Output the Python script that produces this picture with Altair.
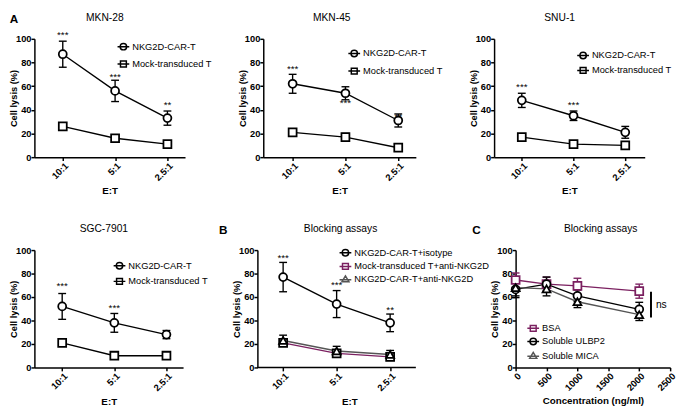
import json
import altair as alt
import pandas as pd

FONT = "Liberation Sans"
PURPLE = "#7b2060"
GREY = "#555555"

ratios = ["10:1", "5:1", "2.5:1"]
car = "NKG2D-CAR-T"
mock = "Mock-transduced T"

# ---- Panel A: MKN-28
mkn28_car = [87, 56, 33]
mkn28_car_sem = [11, 9, 6]
mkn28_mock = [26, 16, 11]
mkn28_mock_sem = [1.5, 3, 2]
mkn28_star_text = ["***", "***", "**"]
mkn28_star_y = [105.5, 70, 46]

# ---- MKN-45
mkn45_car = [62, 54, 31]
mkn45_car_sem = [8, 5.5, 5.5]
mkn45_mock = [21, 17, 8]
mkn45_mock_sem = [1.5, 3, 2]
mkn45_star_text = ["***", "***", "**"]
mkn45_star_y = [76.7, 48, 36]

# ---- SNU-1
snu1_car = [48, 35, 21]
snu1_car_sem = [6, 4, 5]
snu1_mock = [17, 11, 10]
snu1_mock_sem = [1.5, 1.5, 1.5]
snu1_star_text = ["***", "***"]
snu1_star_y = [61.4, 45.7]

# ---- SGC-7901
sgc_car = [52, 38, 28]
sgc_car_sem = [11, 8, 3.5]
sgc_mock = [21, 10, 10]
sgc_mock_sem = [1, 1, 1]
sgc_star_text = ["***", "***"]
sgc_star_y = [71.3, 52.5]

# ---- Panel B: blocking assays (E:T)
b_names = ["NKG2D-CAR-T+isotype", "Mock-transduced T+anti-NKG2D", "NKG2D-CAR-T+anti-NKG2D"]
b_iso = [77, 54, 38]
b_iso_sem = [12.5, 11.5, 7.5]
b_mock = [21, 12, 9]
b_mock_sem = [3, 3, 3]
b_anti = [23, 14, 11]
b_anti_sem = [4.5, 4, 3.5]
b_star_text = ["***", "***", "**"]
b_star_y = [95, 72, 51]

# ---- Panel C: blocking assays (concentration)
c_names = ["BSA", "Soluble ULBP2", "Soluble MICA"]
conc = [0, 500, 1000, 2000]
conc_ticks = [0, 500, 1000, 1500, 2000, 2500]
c_bsa = [74.5, 71, 69.5, 65]
c_bsa_sem = [6, 6, 6.5, 6]
c_ulbp2 = [66.5, 71, 61, 49.5]
c_ulbp2_sem = [7, 6, 5, 6]
c_mica = [68, 67, 56, 45]
c_mica_sem = [7, 6, 5, 5]
ns_x = [2190]
ns_lo = [42.5]
ns_hi = [64.5]
ns_text = ["ns"]

y_ticks = [0, 20, 40, 60, 80, 100]

# legend symbols: marker with line through
P_CIRCLE = "M-1,0L1,0M-0.55,0A0.55,0.55,0,1,1,0.55,0A0.55,0.55,0,1,1,-0.55,0Z"
P_SQUARE = "M-1,0L1,0M-0.5,-0.5L0.5,-0.5L0.5,0.5L-0.5,0.5Z"
P_TRI = "M-1,0.1L1,0.1M0,-0.55L0.6,0.45L-0.6,0.45Z"


def series_df(names, means, sems, xs):
    rows = []
    for name, m, s in zip(names, means, sems):
        for xv, mv, sv in zip(xs, m, s):
            rows.append(dict(series=name, x=xv, mean=mv, lo=mv - sv, hi=mv + sv))
    return pd.DataFrame(rows)


def stars_df(texts, ys):
    return pd.DataFrame(dict(x=list(range(len(texts))), y=ys, t=texts))


def ratio_x(first, step, width, domain_line=True):
    dmin = -first / step
    dmax = (width - first) / step
    scale = alt.Scale(domain=[dmin, dmax], nice=False, zero=False)
    axis = alt.Axis(values=list(range(len(ratios))),
                    labelExpr=json.dumps(ratios) + "[datum.value]",
                    labelAngle=-45, title="E:T", domain=domain_line)

    def make(field=None, datum=None):
        if datum is not None:
            return alt.X(datum=datum, type="quantitative", scale=scale, axis=axis)
        return alt.X(field, type="quantitative", scale=scale, axis=axis)
    return make


def conc_x(field):
    return alt.X(field, type="quantitative",
                 scale=alt.Scale(domain=[0, 2500], nice=False, zero=False),
                 axis=alt.Axis(values=conc_ticks, labelAngle=-45, format="d",
                               title="Concentration (ng/ml)"))


Y_SCALE = alt.Scale(domain=[0, 100], nice=False)
Y_AXIS = alt.Axis(values=y_ticks, title="Cell lysis (%)")


def yenc(field=None, datum=None):
    if datum is not None:
        return alt.Y(datum=datum, type="quantitative", scale=Y_SCALE, axis=Y_AXIS)
    return alt.Y(field, type="quantitative", scale=Y_SCALE, axis=Y_AXIS)


def build(df, sdf, names, colors, mcolors, shapes, paths, xf, title, w, h, leg, label, lxy,
          tdx=0, extra=None):
    base = alt.Chart(df)
    col = alt.Color("series:N", scale=alt.Scale(domain=names, range=colors), legend=None)
    mcol = alt.Color("series:N", scale=alt.Scale(domain=names, range=mcolors), legend=None)
    lines = base.mark_line(strokeWidth=1.4).encode(x=xf("x"), y=yenc("mean"), color=col)
    bars = base.mark_rule(strokeWidth=1.4).encode(x=xf("x"), y=yenc("lo"), y2="hi:Q", color=mcol)
    cap_lo = base.mark_rule(strokeWidth=1.4, xOffset=-4, x2Offset=4).encode(
        x=xf("x"), x2="x:Q", y=yenc("lo"), color=mcol)
    cap_hi = base.mark_rule(strokeWidth=1.4, xOffset=-4, x2Offset=4).encode(
        x=xf("x"), x2="x:Q", y=yenc("hi"), color=mcol)
    pts = base.mark_point(filled=False, fill="white", opacity=1, size=66, strokeWidth=1.8).encode(
        x=xf("x"), y=yenc("mean"), color=mcol,
        shape=alt.Shape("series:N", scale=alt.Scale(domain=names, range=shapes), legend=None))
    legend = alt.Legend(orient="none", legendX=leg[0], legendY=leg[1], title=None,
                        labelFont=FONT, labelFontSize=9.5, labelColor="black",
                        symbolSize=144, symbolStrokeWidth=1.5, rowPadding=leg[2],
                        padding=0, labelOffset=2, labelLimit=300)
    leg_layer = base.transform_filter("false").mark_point(filled=False, opacity=1).encode(
        x=xf("x"), y=yenc("mean"),
        shape=alt.Shape("series:N", scale=alt.Scale(domain=names, range=paths), legend=legend),
        color=alt.Color("series:N", scale=alt.Scale(domain=names, range=colors), legend=legend))
    layers = [lines, bars, cap_lo, cap_hi, pts, leg_layer]
    if sdf is not None:
        stars = alt.Chart(sdf).mark_text(font=FONT, fontSize=10, baseline="middle", dy=2.5,
                                         color="black").encode(
            x=xf("x"), y=yenc("y"), text="t:N")
        layers.append(stars)
    if extra is not None:
        layers.extend(extra)
    # panel letter (transparent placeholder keeps every title at the same height)
    lab = alt.Chart(pd.DataFrame({"t": [label or "A"]})).mark_text(
        font=FONT, fontSize=12, fontWeight="bold", color="black", baseline="middle",
        opacity=1 if label else 0).encode(
        text="t:N", x=alt.value(lxy[0]), y=alt.value(lxy[1]))
    layers.append(lab)
    return alt.layer(*layers).resolve_scale(shape="independent", color="independent").properties(
        width=w, height=h,
        title=alt.Title(title, frame="group", anchor="middle", dx=tdx))


two = [car, mock]
blk2 = ["black", "black"]
shp2 = ["circle", "square"]
pth2 = [P_CIRCLE, P_SQUARE]
idx = list(range(len(ratios)))

W = [154, 156, 154, 152, 188, 158]
B_FIRST, B_STEP, B_AXIS_END = 26.3, 54.7, 162

p1 = build(series_df(two, [mkn28_car, mkn28_mock], [mkn28_car_sem, mkn28_mock_sem], idx),
           stars_df(mkn28_star_text, mkn28_star_y), two, blk2, blk2, shp2, pth2,
           ratio_x(29, 53.5, W[0]), "MKN-28", W[0], 121, (84, 1, 3.7), "A", (-21, -20), tdx=-5)
p2 = build(series_df(two, [mkn45_car, mkn45_mock], [mkn45_car_sem, mkn45_mock_sem], idx),
           stars_df(mkn45_star_text, mkn45_star_y), two, blk2, blk2, shp2, pth2,
           ratio_x(30, 54, W[1]), "MKN-45", W[1], 121, (86, 8, 4), None, (-21, -20), tdx=-8)
p3 = build(series_df(two, [snu1_car, snu1_mock], [snu1_car_sem, snu1_mock_sem], idx),
           stars_df(snu1_star_text, snu1_star_y), two, blk2, blk2, shp2, pth2,
           ratio_x(28.3, 52.9, W[2]), "SNU-1", W[2], 121, (84, 10, 1.3), None, (-21, -20), tdx=-10)
p4 = build(series_df(two, [sgc_car, sgc_mock], [sgc_car_sem, sgc_mock_sem], idx),
           stars_df(sgc_star_text, sgc_star_y), two, blk2, blk2, shp2, pth2,
           ratio_x(28.4, 53.3, W[3]), "SGC-7901", W[3], 120, (80, 9, 2), None, (-21, -20), tdx=-5)

# panel B: x-axis line drawn as a rule so it stops where the reference's does
b_xf = ratio_x(B_FIRST, B_STEP, W[4], domain_line=False)
b_axis_line = alt.Chart(pd.DataFrame({"a": [0]})).mark_rule(color="black", strokeWidth=1.5).encode(
    x=b_xf(datum=-B_FIRST / B_STEP),
    x2=alt.X2(datum=(B_AXIS_END - B_FIRST) / B_STEP),
    y=yenc(datum=0))
p5 = build(series_df(b_names, [b_iso, b_mock, b_anti], [b_iso_sem, b_mock_sem, b_anti_sem], idx),
           stars_df(b_star_text, b_star_y), b_names, ["black", PURPLE, GREY],
           ["black", "black", "black"], ["circle", "square", "triangle-up"],
           [P_CIRCLE, P_SQUARE, P_TRI],
           b_xf, "Blocking assays", W[4], 120, (83, -4.3, -0.7),
           "B", (-35, -20), tdx=-9, extra=[b_axis_line])

ns_df = pd.DataFrame(dict(x=ns_x, lo=ns_lo, hi=ns_hi, t=ns_text))
ns_rule = alt.Chart(ns_df).mark_rule(strokeWidth=2, color="black").encode(
    x=conc_x("x"), y=yenc("lo"), y2="hi:Q")
ns_lab = alt.Chart(ns_df).transform_calculate(m="(datum.lo + datum.hi) / 2").mark_text(
    font=FONT, fontSize=10.5, align="left", baseline="middle", dx=5, color="black").encode(
    x=conc_x("x"), y=yenc("m"), text="t:N")

p6 = build(series_df(c_names, [c_bsa, c_ulbp2, c_mica], [c_bsa_sem, c_ulbp2_sem, c_mica_sem], conc),
           None, c_names, [PURPLE, "black", GREY], [PURPLE, "black", "black"],
           ["square", "circle", "triangle-up"], [P_SQUARE, P_CIRCLE, P_TRI],
           conc_x, "Blocking assays", W[5], 120, (11, 73, 0.5), "C", (-40, -20), tdx=8,
           extra=[ns_rule, ns_lab])

row1 = alt.hconcat(p1, p2, p3, spacing=80, bounds="flush")
row2 = alt.hconcat(p4, p5, p6, spacing=76, bounds="flush")

chart = alt.vconcat(row1, row2, spacing=28).properties(
    padding={"left": 0, "top": 0, "right": 0, "bottom": 0}
).configure_view(stroke=None).configure_axis(
    grid=False, domainColor="black", domainWidth=1.5, tickColor="black", tickWidth=1.5,
    tickSize=3.5, labelPadding=0, labelFont=FONT, labelFontSize=9.5, labelFontWeight="bold",
    labelColor="black", titleFont=FONT, titleFontSize=9.5, titleFontWeight="bold",
    titleColor="black"
).configure_axisY(titlePadding=-3).configure_axisX(titlePadding=4, titleFontSize=10).configure_title(
    font=FONT, fontSize=10.5, fontWeight="normal", color="black", offset=-10)

chart.save("out.html", embed_options={"renderer": "svg", "actions": False})
